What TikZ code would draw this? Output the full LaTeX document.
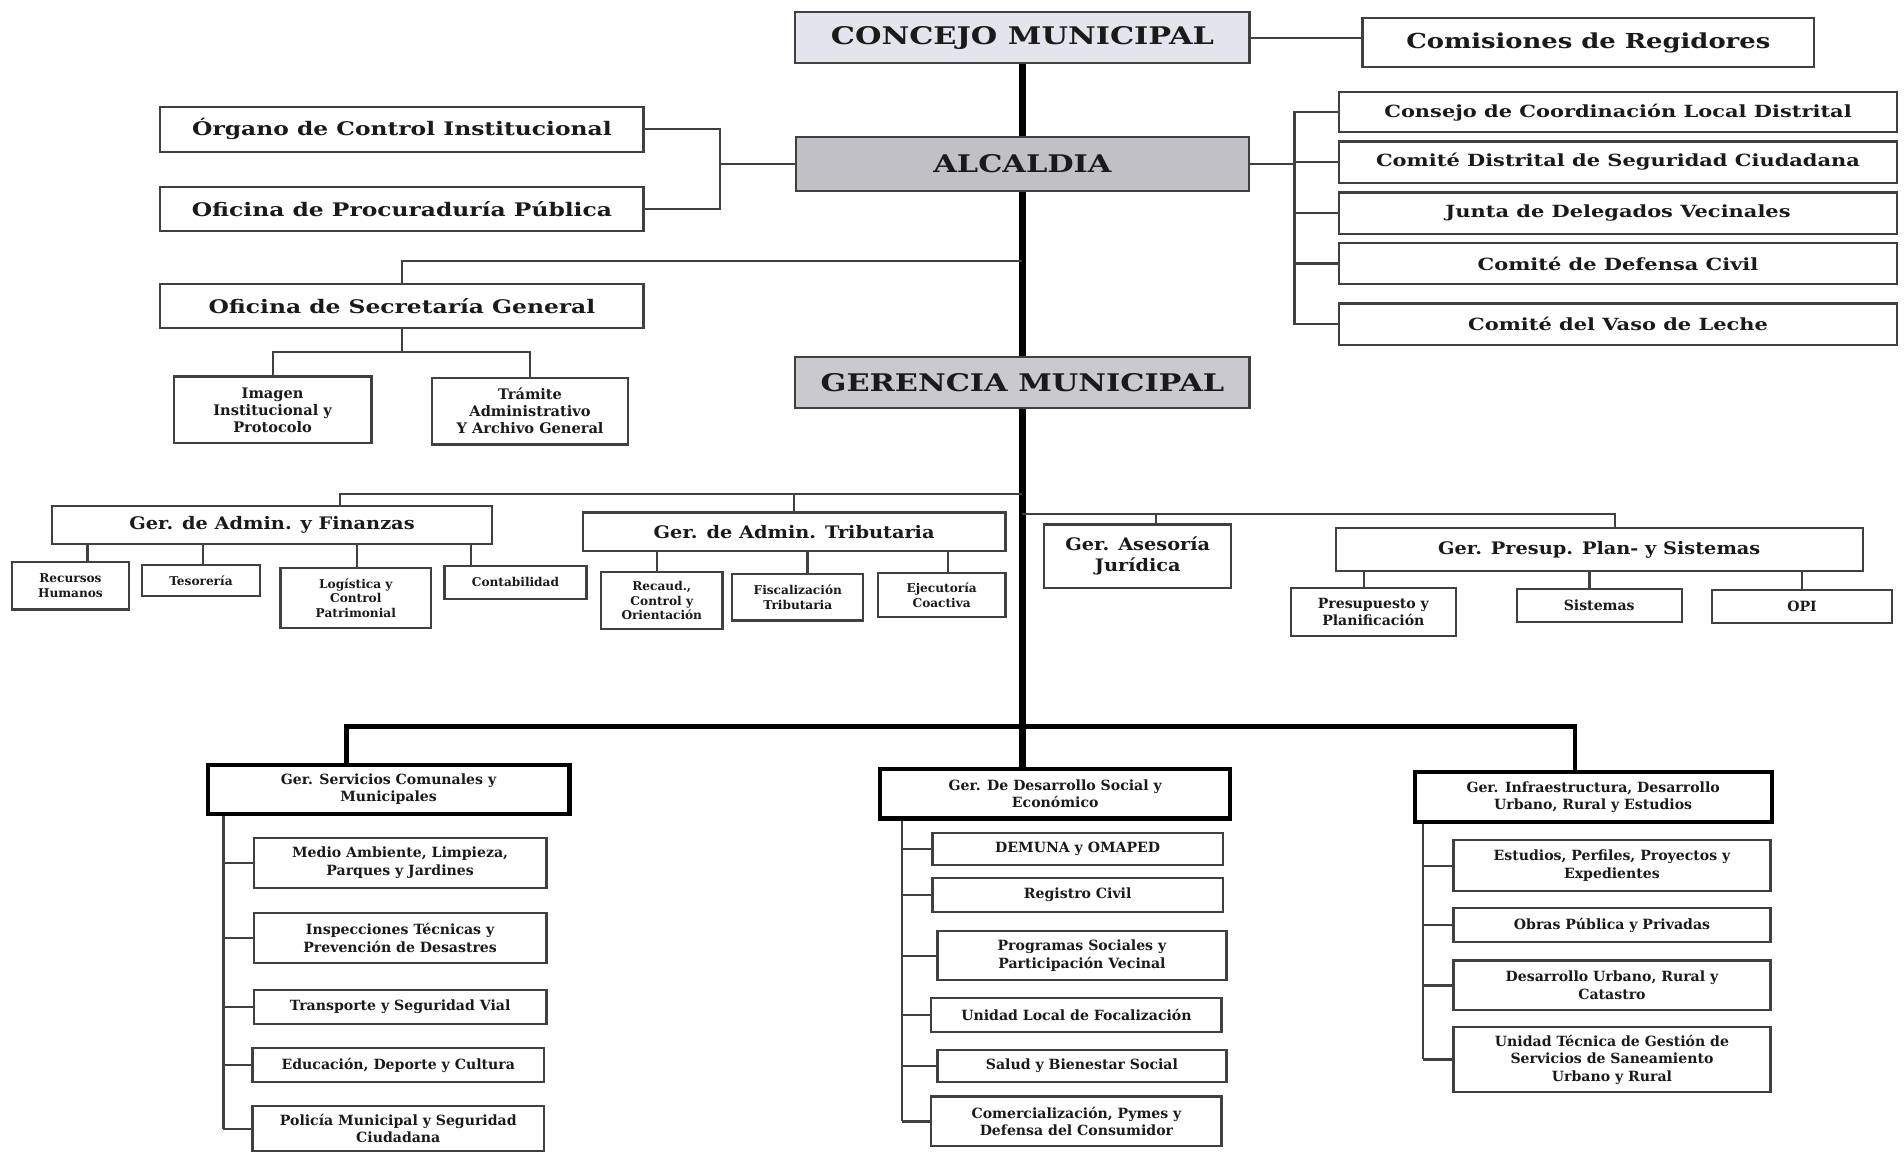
\documentclass[tikz,border=0pt]{standalone}
\usepackage{fontspec}
\setmainfont{DejaVu Serif}
\newfontfamily\widefont{DejaVu Serif}[FakeStretch=1.25]
\newfontfamily\midfont{DejaVu Serif}[FakeStretch=1.12]
\usetikzlibrary{calc}
\definecolor{ln}{HTML}{404040}
\definecolor{txt}{HTML}{1A1A1A}
\definecolor{hdrlight}{HTML}{E4E4EC}
\definecolor{hdrdark}{HTML}{C0C0C5}
\tikzset{
  bx/.style={draw=ln, line width=0.9pt, fill=white, inner sep=0pt, align=center, text=txt},
  heavy/.style={bx, draw=black, line width=1.7pt},
  fbig/.style={font=\widefont\bfseries\fontsize{10}{12}\selectfont},
  fcom/.style={font=\widefont\bfseries\fontsize{8.5}{10}\selectfont},
  fleft/.style={font=\widefont\bfseries\fontsize{7.7}{9}\selectfont},
  fright/.style={font=\widefont\bfseries\fontsize{6.9}{8}\selectfont},
  fmid/.style={font=\midfont\bfseries\fontsize{7.1}{8.8}\selectfont},
  fsmall/.style={font=\bfseries\fontsize{6}{7}\selectfont},
  ftiny/.style={font=\bfseries\fontsize{5}{6}\selectfont},
  fbot/.style={font=\bfseries\fontsize{5.8}{7.2}\selectfont},
  conn/.style={draw=ln, line width=0.9pt},
  trunk/.style={draw=black, line width=3pt},
  barline/.style={draw=black, line width=2pt, line cap=rect}
}
\begin{document}
\begin{tikzpicture}[x=0.5pt,y=-0.5pt]
\useasboundingbox (0,0) rectangle (1568,950);
\fill[white] (0,0) rectangle (1568,950);

% top level
\node[bx, fill=hdrlight, minimum width=187pt, minimum height=21pt, fbig] (concejo) at (842,31) {CONCEJO MUNICIPAL};
\node[bx, minimum width=186pt, minimum height=20pt, fcom] (comis) at (1308,35) {Comisiones de Regidores};
\node[bx, fill=hdrdark, minimum width=186.5pt, minimum height=22pt, fbig] (alcaldia) at (842,135) {ALCALDIA};
\node[bx, fill=hdrdark!85, minimum width=187pt, minimum height=21pt, fbig] (gerencia) at (842,315) {GERENCIA MUNICIPAL};

% left of alcaldia
\node[bx, minimum width=199pt, minimum height=18.5pt, fleft] (organo) at (331,106.5) {Órgano de Control Institucional};
\node[bx, minimum width=199pt, minimum height=18pt, fleft] (proc) at (331,172) {Oficina de Procuraduría Pública};

% right of alcaldia
\node[bx, minimum width=229.5pt, minimum height=16.5pt, fright] (cons) at (1332.5,92.5) {Consejo de Coordinación Local Distrital};
\node[bx, minimum width=229.5pt, minimum height=17pt, fright] (comd) at (1332.5,133.5) {Comité Distrital de Seguridad Ciudadana};
\node[bx, minimum width=229.5pt, minimum height=17pt, fright] (junta) at (1332.5,175.5) {Junta de Delegados Vecinales};
\node[bx, minimum width=229.5pt, minimum height=17pt, fright] (defensa) at (1332.5,217) {Comité de Defensa Civil};
\node[bx, minimum width=229.5pt, minimum height=17pt, fright] (vaso) at (1332.5,267) {Comité del Vaso de Leche};

% secretaria
\node[bx, minimum width=199pt, minimum height=18pt, fleft] (sec) at (331,252) {Oficina de Secretaría General};
\node[bx, minimum width=81.5pt, minimum height=27.5pt, fsmall] (imagen) at (224.5,337.5) {Imagen\\Institucional y\\Protocolo};
\node[bx, minimum width=80.5pt, minimum height=27.5pt, fsmall] (tramite) at (436.5,338.5) {Trámite\\Administrativo\\Y Archivo General};

% middle row
\node[bx, minimum width=181pt, minimum height=15.5pt, fmid] (fin) at (224,432.5) {Ger. de Admin. y Finanzas};
\node[bx, minimum width=174pt, minimum height=16pt, fmid] (trib) at (654,438) {Ger. de Admin. Tributaria};
\node[bx, minimum width=77pt, minimum height=26pt, fmid] (ases) at (937,458) {Ger. Asesoría\\Jurídica};
\node[bx, minimum width=217pt, minimum height=17.5pt, fmid] (presup) at (1317,452.5) {Ger. Presup. Plan- y Sistemas};

\node[bx, minimum width=48pt, minimum height=19.5pt, ftiny] (rh) at (58,482.5) {Recursos\\Humanos};
\node[bx, minimum width=48.5pt, minimum height=13pt, ftiny] (tes) at (165.5,478) {Tesorería};
\node[bx, minimum width=62pt, minimum height=24.5pt, ftiny] (log) at (293,492.5) {Logística y\\Control\\Patrimonial};
\node[bx, minimum width=58.5pt, minimum height=13.5pt, ftiny] (cont) at (424.5,479.5) {Contabilidad};

\node[bx, minimum width=50pt, minimum height=23.5pt, ftiny] (rec) at (545,494.5) {Recaud.,\\Control y\\Orientación};
\node[bx, minimum width=54pt, minimum height=19pt, ftiny] (fis) at (657,492) {Fiscalización\\Tributaria};
\node[bx, minimum width=52.5pt, minimum height=18pt, ftiny] (eje) at (775.5,490) {Ejecutoría\\Coactiva};

\node[bx, minimum width=68pt, minimum height=20pt, fbot] (pyp) at (1131,504) {Presupuesto y\\Planificación};
\node[bx, minimum width=68pt, minimum height=13.5pt, fbot] (sis) at (1317,498.5) {Sistemas};
\node[bx, minimum width=74pt, minimum height=13.5pt, fbot] (opi) at (1484,499.5) {OPI};

% bottom headers
\node[heavy, minimum width=149pt, minimum height=20pt, fbot] (serv) at (320,650) {Ger. Servicios Comunales y\\Municipales};
\node[heavy, minimum width=144pt, minimum height=20.5pt, fbot] (des) at (869,653.5) {Ger. De Desarrollo Social y\\Económico};
\node[heavy, minimum width=147pt, minimum height=20.5pt, fbot] (inf) at (1312,656.5) {Ger. Infraestructura, Desarrollo\\Urbano, Rural y Estudios};

% servicios children
\node[bx, minimum width=120.5pt, minimum height=20.5pt, fbot] (ma) at (329.5,710.5) {Medio Ambiente, Limpieza,\\Parques y Jardines};
\node[bx, minimum width=120.5pt, minimum height=20.5pt, fbot] (insp) at (329.5,772.5) {Inspecciones Técnicas y\\Prevención de Desastres};
\node[bx, minimum width=120.5pt, minimum height=14pt, fbot] (trans) at (329.5,829) {Transporte y Seguridad Vial};
\node[bx, minimum width=120pt, minimum height=14pt, fbot] (edu) at (328,877) {Educación, Deporte y Cultura};
\node[bx, minimum width=120pt, minimum height=18.5pt, fbot] (pol) at (328,929.5) {Policía Municipal y Seguridad\\Ciudadana};

% desarrollo children
\node[bx, minimum width=119.5pt, minimum height=13pt, fbot] (dem) at (887.5,699) {DEMUNA y OMAPED};
\node[bx, minimum width=119.5pt, minimum height=14pt, fbot] (reg) at (887.5,737) {Registro Civil};
\node[bx, minimum width=119pt, minimum height=20pt, fbot] (prog) at (891,787) {Programas Sociales y\\Participación Vecinal};
\node[bx, minimum width=119.5pt, minimum height=14pt, fbot] (ulf) at (886.5,836) {Unidad Local de Focalización};
\node[bx, minimum width=119pt, minimum height=13pt, fbot] (sal) at (891,878) {Salud y Bienestar Social};
\node[bx, minimum width=119.5pt, minimum height=20.5pt, fbot] (com) at (886.5,923.5) {Comercialización, Pymes y\\Defensa del Consumidor};

% infraestructura children
\node[bx, minimum width=130.5pt, minimum height=21pt, fbot] (est) at (1327.5,713) {Estudios, Perfiles, Proyectos y\\Expedientes};
\node[bx, minimum width=130.5pt, minimum height=14pt, fbot] (obr) at (1327.5,762) {Obras Pública y Privadas};
\node[bx, minimum width=130.5pt, minimum height=20.5pt, fbot] (du) at (1327.5,811.5) {Desarrollo Urbano, Rural y\\Catastro};
\node[bx, minimum width=130.5pt, minimum height=26.5pt, fbot] (ut) at (1327.5,872.5) {Unidad Técnica de Gestión de\\Servicios de Saneamiento\\Urbano y Rural};

% ---- connectors ----
\draw[conn] (concejo.east) -- (concejo.east -| comis.west);
\draw[trunk] (concejo.south) -- (alcaldia.north);
\draw[trunk] (alcaldia.south) -- (gerencia.north);
\coordinate (bar) at (842,598);
\draw[trunk] (gerencia.south) -- (bar);

% left bracket
\coordinate (bl) at (593,135);
\draw[conn] (organo.east) -| (bl);
\draw[conn] (proc.east) -| (bl);
\draw[conn] (bl) -- (bl -| alcaldia.west);

% right bracket
\coordinate (br) at (1066,135);
\draw[conn] (alcaldia.east) -- (br);
\draw[conn] (cons.west) -| (br);
\draw[conn] (vaso.west) -| (br);
\draw[conn] (comd.west) -- (comd.west -| br);
\draw[conn] (junta.west) -- (junta.west -| br);
\draw[conn] (defensa.west) -- (defensa.west -| br);

% secretaria
\coordinate (t1) at (842,215);
\draw[conn] (t1) -| (sec.north);
\coordinate (sb) at (331,290);
\draw[conn] (sec.south) -- (sb);
\draw[conn] (imagen.north) |- (sb);
\draw[conn] (tramite.north) |- (sb);

% middle row
\coordinate (t2) at (842,407);
\coordinate (j1) at (280,407);
\draw[conn] (t2) -- (j1) -- (j1 |- fin.north);
\draw[conn] (trib.north) -- (trib.north |- t2);
\coordinate (t3) at (842,423);
\coordinate (j2) at (1330,423);
\coordinate (j3) at (952,423);
\draw[conn] (t3) -- (j2) -- (j2 |- presup.north);
\draw[conn] (j3) -- (j3 |- ases.north);

% finanzas drops
\coordinate (d1) at (72,0);
\coordinate (d2) at (167,0);
\coordinate (d3) at (294,0);
\coordinate (d4) at (388,0);
\draw[conn] (d1 |- fin.south) -- (d1 |- rh.north);
\draw[conn] (d2 |- fin.south) -- (d2 |- tes.north);
\draw[conn] (d3 |- fin.south) -- (d3 |- log.north);
\draw[conn] (d4 |- fin.south) -- (d4 |- cont.north);
% tributaria drops
\coordinate (e1) at (541,0);
\coordinate (e2) at (665,0);
\coordinate (e3) at (781,0);
\draw[conn] (e1 |- trib.south) -- (e1 |- rec.north);
\draw[conn] (e2 |- trib.south) -- (e2 |- fis.north);
\draw[conn] (e3 |- trib.south) -- (e3 |- eje.north);
% presup drops
\coordinate (p1) at (1123,0);
\coordinate (p2) at (1309,0);
\coordinate (p3) at (1484,0);
\draw[conn] (p1 |- presup.south) -- (p1 |- pyp.north);
\draw[conn] (p2 |- presup.south) -- (p2 |- sis.north);
\draw[conn] (p3 |- presup.south) -- (p3 |- opi.north);

% bottom bar
\coordinate (barL) at (285,598);
\coordinate (barR) at (1297,598);
\draw[barline] (barL) -- (barR);
\draw[barline] (barL) -- (barL |- serv.north);
\draw[trunk] (bar) -- (bar |- des.north);
\draw[barline] (barR) -- (barR |- inf.north);

% servicios branch
\coordinate (vs) at (184,0);
\draw[conn] (vs |- serv.south) -- (vs |- pol.west);
\draw[conn] (ma.west) -- (ma.west -| vs);
\draw[conn] (insp.west) -- (insp.west -| vs);
\draw[conn] (trans.west) -- (trans.west -| vs);
\draw[conn] (edu.west) -- (edu.west -| vs);
\draw[conn] (pol.west) -- (pol.west -| vs);
% desarrollo branch
\coordinate (vd) at (743,0);
\draw[conn] (vd |- des.south) -- (vd |- com.west);
\draw[conn] (dem.west) -- (dem.west -| vd);
\draw[conn] (reg.west) -- (reg.west -| vd);
\draw[conn] (prog.west) -- (prog.west -| vd);
\draw[conn] (ulf.west) -- (ulf.west -| vd);
\draw[conn] (sal.west) -- (sal.west -| vd);
\draw[conn] (com.west) -- (com.west -| vd);
% infraestructura branch
\coordinate (vi) at (1172,0);
\draw[conn] (vi |- inf.south) -- (vi |- ut.west);
\draw[conn] (est.west) -- (est.west -| vi);
\draw[conn] (obr.west) -- (obr.west -| vi);
\draw[conn] (du.west) -- (du.west -| vi);
\draw[conn] (ut.west) -- (ut.west -| vi);
\end{tikzpicture}
\end{document}
